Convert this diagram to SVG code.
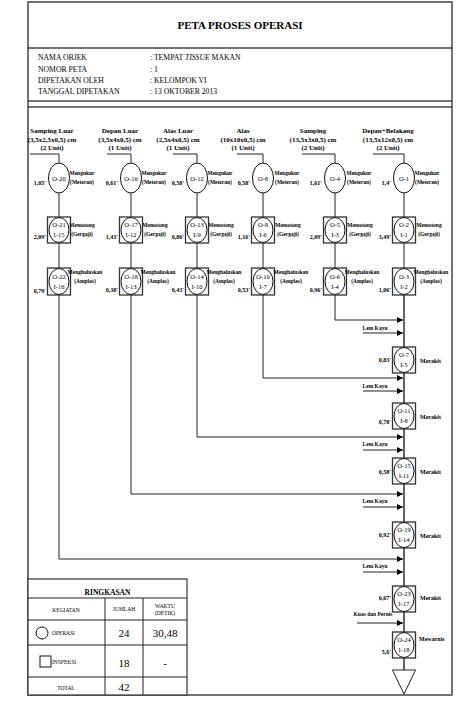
<svg xmlns="http://www.w3.org/2000/svg" width="456" height="702" viewBox="0 0 456 702">
<style>
text{font-family:"Liberation Serif","Times New Roman",serif;fill:#000}
.frame{fill:none;stroke:#444;stroke-width:1.5}
.ln{fill:none;stroke:#222;stroke-width:1}
.main{fill:none;stroke:#555;stroke-width:1.8}
.nd{fill:#fff;stroke:#111;stroke-width:1}
.sq{fill:#fff;stroke:#333;stroke-width:1.3}
.hd{font-size:7px;font-weight:bold;text-anchor:middle}
.lb{font-size:5.5px;font-weight:bold;text-anchor:middle}
.tm{font-size:6px;font-weight:bold;text-anchor:end}
.nt{font-size:6.5px;text-anchor:middle}
.info{font-size:7.7px}
.mk{font-size:6px;font-weight:bold}
.lk{font-size:5.5px;font-weight:bold;text-anchor:middle}
.tb{font-size:5.5px;text-anchor:middle}
.tbs{font-size:5.5px;text-anchor:start}
.num{font-size:11px;text-anchor:middle}
</style>
<defs>
<marker id="ah" markerWidth="6" markerHeight="6" refX="6" refY="3" orient="auto" markerUnits="userSpaceOnUse">
<path d="M0,0 L6,3 L0,6 z" fill="#000"/>
</marker>
</defs>
<rect width="456" height="702" fill="#fff"/>

<g id="frame">
<rect class="frame" x="28" y="2" width="424" height="693"/>
<line class="frame" x1="28" y1="48" x2="452" y2="48"/>
<line class="frame" x1="28" y1="101" x2="452" y2="101"/>
<line class="frame" x1="28" y1="107" x2="452" y2="107"/>
<text x="240" y="29" font-size="11" font-weight="bold" text-anchor="middle">PETA PROSES OPERASI</text>
<text class="info" x="38" y="60">NAMA OBJEK</text>
<text class="info" x="38" y="72">NOMOR PETA</text>
<text class="info" x="38" y="83">DIPETAKAN OLEH</text>
<text class="info" x="38" y="94">TANGGAL DIPETAKAN</text>
<text class="info" x="150" y="60">: TEMPAT <tspan font-style="italic">TISSUE</tspan> MAKAN</text>
<text class="info" x="150" y="72">: 1</text>
<text class="info" x="150" y="83">: KELOMPOK VI</text>
<text class="info" x="150" y="94">: 13 OKTOBER 2013</text>
</g>

<g id="headers">
<text class="hd" x="52" y="133">Samping Luar</text>
<text class="hd" x="52" y="142">(3,5x2,5x0,5) cm</text>
<text class="hd" x="52" y="150">(2 Unit)</text>
<text class="hd" x="120" y="133">Depan Luar</text>
<text class="hd" x="120" y="142">(3,5x4x0,5) cm</text>
<text class="hd" x="120" y="150">(1 Unit)</text>
<text class="hd" x="178" y="133">Alas Luar</text>
<text class="hd" x="178" y="142">(2,5x4x0,5) cm</text>
<text class="hd" x="178" y="150">(1 Unit)</text>
<text class="hd" x="243" y="133">Alas</text>
<text class="hd" x="243" y="142">(10x10x0,5) cm</text>
<text class="hd" x="243" y="150">(1 Unit)</text>
<text class="hd" x="313" y="133">Samping</text>
<text class="hd" x="313" y="142">(13,5x3x0,5) cm</text>
<text class="hd" x="313" y="150">(2 Unit)</text>
<text class="hd" x="388" y="133">Depan+Belakang</text>
<text class="hd" x="388" y="142">(13,5x12x0,5) cm</text>
<text class="hd" x="388" y="150">(2 Unit)</text>
</g>

<g id="connectors">
<polyline class="ln" points="30,154 59,154 59,163"/>
<polyline class="ln" points="107,154 131,154 131,163"/>
<polyline class="ln" points="173,154 197,154 197,163"/>
<polyline class="ln" points="237,154 263,154 263,163"/>
<polyline class="ln" points="302,154 335,154 335,163"/>
<polyline class="ln" points="373,154 404,154 404,163"/>
<path class="ln" d="M59,193V217M59,243V268M131,193V217M131,243V268M197,193V217M197,243V268M263,193V217M263,243V268M335,193V217M335,243V268M404,193V217M404,243V268"/>
<polyline class="ln" points="335,295 335,320 403,320" marker-end="url(#ah)"/>
<polyline class="ln" points="263,295 263,378 403,378" marker-end="url(#ah)"/>
<polyline class="ln" points="197,295 197,437 403,437" marker-end="url(#ah)"/>
<polyline class="ln" points="131,295 131,494 403,494" marker-end="url(#ah)"/>
<polyline class="ln" points="59,295 59,559 403,559" marker-end="url(#ah)"/>
<path class="main" d="M404,295V347M404,373V403M404,429V458M404,484V522M404,548V586M404,612V632M404,658V670"/>
<line class="ln" x1="363" y1="333" x2="403" y2="333" marker-end="url(#ah)"/>
<line class="ln" x1="363" y1="391" x2="403" y2="391" marker-end="url(#ah)"/>
<line class="ln" x1="363" y1="450" x2="403" y2="450" marker-end="url(#ah)"/>
<line class="ln" x1="363" y1="507" x2="403" y2="507" marker-end="url(#ah)"/>
<line class="ln" x1="363" y1="572" x2="403" y2="572" marker-end="url(#ah)"/>
<line class="ln" x1="357" y1="623" x2="403" y2="623" marker-end="url(#ah)"/>
<text class="lk" x="375" y="330">Lem Kayu</text>
<text class="lk" x="375" y="388">Lem Kayu</text>
<text class="lk" x="375" y="446">Lem Kayu</text>
<text class="lk" x="375" y="503">Lem Kayu</text>
<text class="lk" x="375" y="568">Lem Kayu</text>
<text class="lk" x="373" y="616">Kuas dan Pernis</text>
</g>

<!-- Row 1 -->
<g id="O-20"><ellipse class="nd" cx="59" cy="178" rx="10.5" ry="15"/><text class="nt" x="59" y="180.5">O-20</text><text class="tm" x="46" y="185">1,05'</text><text class="lb" x="82" y="175">Mengukur</text><text class="lb" x="82" y="184">(Meteran)</text></g>
<g id="O-16"><ellipse class="nd" cx="131" cy="178" rx="10.5" ry="15"/><text class="nt" x="131" y="180.5">O-16</text><text class="tm" x="118" y="185">0,61'</text><text class="lb" x="154" y="175">Mengukur</text><text class="lb" x="154" y="184">(Meteran)</text></g>
<g id="O-12"><ellipse class="nd" cx="197" cy="178" rx="10.5" ry="15"/><text class="nt" x="197" y="180.5">O-12</text><text class="tm" x="184" y="185">0,58'</text><text class="lb" x="220" y="175">Mengukur</text><text class="lb" x="220" y="184">(Meteran)</text></g>
<g id="O-8"><ellipse class="nd" cx="263" cy="178" rx="10.5" ry="15"/><text class="nt" x="263" y="180.5">O-8</text><text class="tm" x="250" y="185">0,58'</text><text class="lb" x="287" y="175">Mengukur</text><text class="lb" x="287" y="184">(Meteran)</text></g>
<g id="O-4"><ellipse class="nd" cx="335" cy="178" rx="10.5" ry="15"/><text class="nt" x="335" y="180.5">O-4</text><text class="tm" x="322" y="185">1,61'</text><text class="lb" x="359" y="175">Mengukur</text><text class="lb" x="359" y="184">(Meteran)</text></g>
<g id="O-1"><ellipse class="nd" cx="404" cy="178" rx="10.5" ry="15"/><text class="nt" x="404" y="180.5">O-1</text><text class="tm" x="391" y="185">1,4'</text><text class="lb" x="427" y="175">Mengukur</text><text class="lb" x="427" y="184">(Meteran)</text></g>

<!-- Row 2 -->
<g id="O-21"><rect class="sq" x="47.5" y="217" width="23" height="26"/><ellipse class="nd" cx="59" cy="230" rx="10" ry="12.5"/><text class="nt" x="59" y="227.3">O-21</text><text class="nt" x="59" y="237.3">I-15</text><text class="tm" x="46" y="239">2,09'</text><text class="lb" x="82" y="227">Memotong</text><text class="lb" x="82" y="236">(Gergaji)</text></g>
<g id="O-17"><rect class="sq" x="119.5" y="217" width="23" height="26"/><ellipse class="nd" cx="131" cy="230" rx="10" ry="12.5"/><text class="nt" x="131" y="227.3">O-17</text><text class="nt" x="131" y="237.3">I-12</text><text class="tm" x="118" y="239">1,43'</text><text class="lb" x="155" y="227">Memotong</text><text class="lb" x="155" y="236">(Gergaji)</text></g>
<g id="O-13"><rect class="sq" x="185.5" y="217" width="23" height="26"/><ellipse class="nd" cx="197" cy="230" rx="10" ry="12.5"/><text class="nt" x="197" y="227.3">O-13</text><text class="nt" x="197" y="237.3">I-9</text><text class="tm" x="184" y="239">0,86'</text><text class="lb" x="221" y="227">Memotong</text><text class="lb" x="221" y="236">(Gergaji)</text></g>
<g id="O-9"><rect class="sq" x="251.5" y="217" width="23" height="26"/><ellipse class="nd" cx="263" cy="230" rx="10" ry="12.5"/><text class="nt" x="263" y="227.3">O-9</text><text class="nt" x="263" y="237.3">I-6</text><text class="tm" x="250" y="239">1,16'</text><text class="lb" x="288" y="227">Memotong</text><text class="lb" x="288" y="236">(Gergaji)</text></g>
<g id="O-5"><rect class="sq" x="323.5" y="217" width="23" height="26"/><ellipse class="nd" cx="335" cy="230" rx="10" ry="12.5"/><text class="nt" x="335" y="227.3">O-5</text><text class="nt" x="335" y="237.3">I-3</text><text class="tm" x="322" y="239">2,09'</text><text class="lb" x="360" y="227">Memotong</text><text class="lb" x="360" y="236">(Gergaji)</text></g>
<g id="O-2"><rect class="sq" x="392.5" y="217" width="23" height="26"/><ellipse class="nd" cx="404" cy="230" rx="10" ry="12.5"/><text class="nt" x="404" y="227.3">O-2</text><text class="nt" x="404" y="237.3">I-1</text><text class="tm" x="391" y="239">3,49'</text><text class="lb" x="429" y="227">Memotong</text><text class="lb" x="429" y="236">(Gergaji)</text></g>

<!-- Row 3 -->
<g id="O-22"><rect class="sq" x="47.5" y="268" width="23" height="27"/><ellipse class="nd" cx="59" cy="281.5" rx="10" ry="13"/><text class="nt" x="59" y="278.5">O-22</text><text class="nt" x="59" y="288.5">I-16</text><text class="tm" x="46" y="293">0,79'</text><text class="lb" x="85" y="274">Menghaluskan</text><text class="lb" x="85" y="283">(Amplas)</text></g>
<g id="O-18"><rect class="sq" x="119.5" y="268" width="23" height="27"/><ellipse class="nd" cx="131" cy="281.5" rx="10" ry="13"/><text class="nt" x="131" y="278.5">O-18</text><text class="nt" x="131" y="288.5">I-13</text><text class="tm" x="118" y="292">0,38'</text><text class="lb" x="158" y="274">Menghaluskan</text><text class="lb" x="158" y="283">(Amplas)</text></g>
<g id="O-14"><rect class="sq" x="185.5" y="268" width="23" height="27"/><ellipse class="nd" cx="197" cy="281.5" rx="10" ry="13"/><text class="nt" x="197" y="278.5">O-14</text><text class="nt" x="197" y="288.5">I-10</text><text class="tm" x="184" y="292">0,43'</text><text class="lb" x="224" y="274">Menghaluskan</text><text class="lb" x="224" y="283">(Amplas)</text></g>
<g id="O-10"><rect class="sq" x="251.5" y="268" width="23" height="27"/><ellipse class="nd" cx="263" cy="281.5" rx="10" ry="13"/><text class="nt" x="263" y="278.5">O-10</text><text class="nt" x="263" y="288.5">I-7</text><text class="tm" x="250" y="292">0,53'</text><text class="lb" x="291" y="274">Menghaluskan</text><text class="lb" x="291" y="283">(Amplas)</text></g>
<g id="O-6"><rect class="sq" x="323.5" y="268" width="23" height="27"/><ellipse class="nd" cx="335" cy="281.5" rx="10" ry="13"/><text class="nt" x="335" y="278.5">O-6</text><text class="nt" x="335" y="288.5">I-4</text><text class="tm" x="322" y="292">0,96'</text><text class="lb" x="362" y="274">Menghaluskan</text><text class="lb" x="362" y="283">(Amplas)</text></g>
<g id="O-3"><rect class="sq" x="392.5" y="268" width="23" height="27"/><ellipse class="nd" cx="404" cy="281.5" rx="10" ry="13"/><text class="nt" x="404" y="278.5">O-3</text><text class="nt" x="404" y="288.5">I-2</text><text class="tm" x="391" y="292">1,06'</text><text class="lb" x="431" y="274">Menghaluskan</text><text class="lb" x="431" y="283">(Amplas)</text></g>

<!-- Assembly -->
<g id="O-7"><rect class="sq" x="392.5" y="347" width="23" height="26"/><ellipse class="nd" cx="404" cy="360" rx="10" ry="12.5"/><text class="nt" x="404" y="357.3">O-7</text><text class="nt" x="404" y="367.3">I-5</text><text class="tm" x="391" y="362">0,83'</text><text class="mk" x="420" y="362.5">Merakit</text></g>
<g id="O-11"><rect class="sq" x="392.5" y="403" width="23" height="26"/><ellipse class="nd" cx="404" cy="416" rx="10" ry="12.5"/><text class="nt" x="404" y="413.3">O-11</text><text class="nt" x="404" y="423.3">I-8</text><text class="tm" x="391" y="424">0,78'</text><text class="mk" x="420" y="418.5">Merakit</text></g>
<g id="O-15"><rect class="sq" x="392.5" y="458" width="23" height="26"/><ellipse class="nd" cx="404" cy="471" rx="10" ry="12.5"/><text class="nt" x="404" y="468.3">O-15</text><text class="nt" x="404" y="478.3">I-11</text><text class="tm" x="391" y="474">0,58'</text><text class="mk" x="420" y="473.5">Merakit</text></g>
<g id="O-19"><rect class="sq" x="392.5" y="522" width="23" height="26"/><ellipse class="nd" cx="404" cy="535" rx="10" ry="12.5"/><text class="nt" x="404" y="532.3">O-19</text><text class="nt" x="404" y="542.3">I-14</text><text class="tm" x="391" y="537">0,92'</text><text class="mk" x="420" y="537.5">Merakit</text></g>
<g id="O-23"><rect class="sq" x="392.5" y="586" width="23" height="26"/><ellipse class="nd" cx="404" cy="599" rx="10" ry="12.5"/><text class="nt" x="404" y="596.3">O-23</text><text class="nt" x="404" y="606.3">I-17</text><text class="tm" x="391" y="600">0,67'</text><text class="mk" x="420" y="600">Merakit</text></g>
<g id="O-24"><rect class="sq" x="392.5" y="632" width="23" height="26"/><ellipse class="nd" cx="404" cy="645" rx="10" ry="12.5"/><text class="nt" x="404" y="642.3">O-24</text><text class="nt" x="404" y="652.3">I-18</text><text class="tm" x="391" y="654">5,6'</text><text class="mk" x="419" y="641">Mewarnis</text></g>
<g id="storage"><polygon points="392.5,670 415.5,670 404,694" fill="#fff" stroke="#222" stroke-width="1"/></g>

<g id="ringkasan">
<rect x="28" y="579" width="159" height="116" fill="#fff" stroke="#333" stroke-width="1.2"/>
<path class="ln" d="M28,598H187M28,620H187M28,645H187M28,677H187M105,598V695M143,598V695"/>
<text x="107.5" y="595" font-size="7.5" font-weight="bold" text-anchor="middle">RINGKASAN</text>
<text class="tb" x="66" y="612">KEGIATAN</text>
<text class="tb" x="124" y="611">JUMLAH</text>
<text class="tb" x="165" y="608">WAKTU</text>
<text class="tb" x="165" y="615">(DETIK)</text>
<circle cx="42" cy="633" r="6" fill="none" stroke="#111" stroke-width="1"/>
<text class="tbs" x="52" y="635">OPERASI</text>
<text class="num" x="124" y="637">24</text>
<text class="num" x="165" y="637">30,48</text>
<rect x="40" y="656" width="11" height="11" fill="none" stroke="#111" stroke-width="1"/>
<text class="tbs" x="52" y="664">INSPEKSI</text>
<text class="num" x="124" y="667">18</text>
<text class="num" x="165" y="667">-</text>
<text class="tb" x="66" y="690">TOTAL</text>
<text class="num" x="124" y="691">42</text>
</g>
</svg>
